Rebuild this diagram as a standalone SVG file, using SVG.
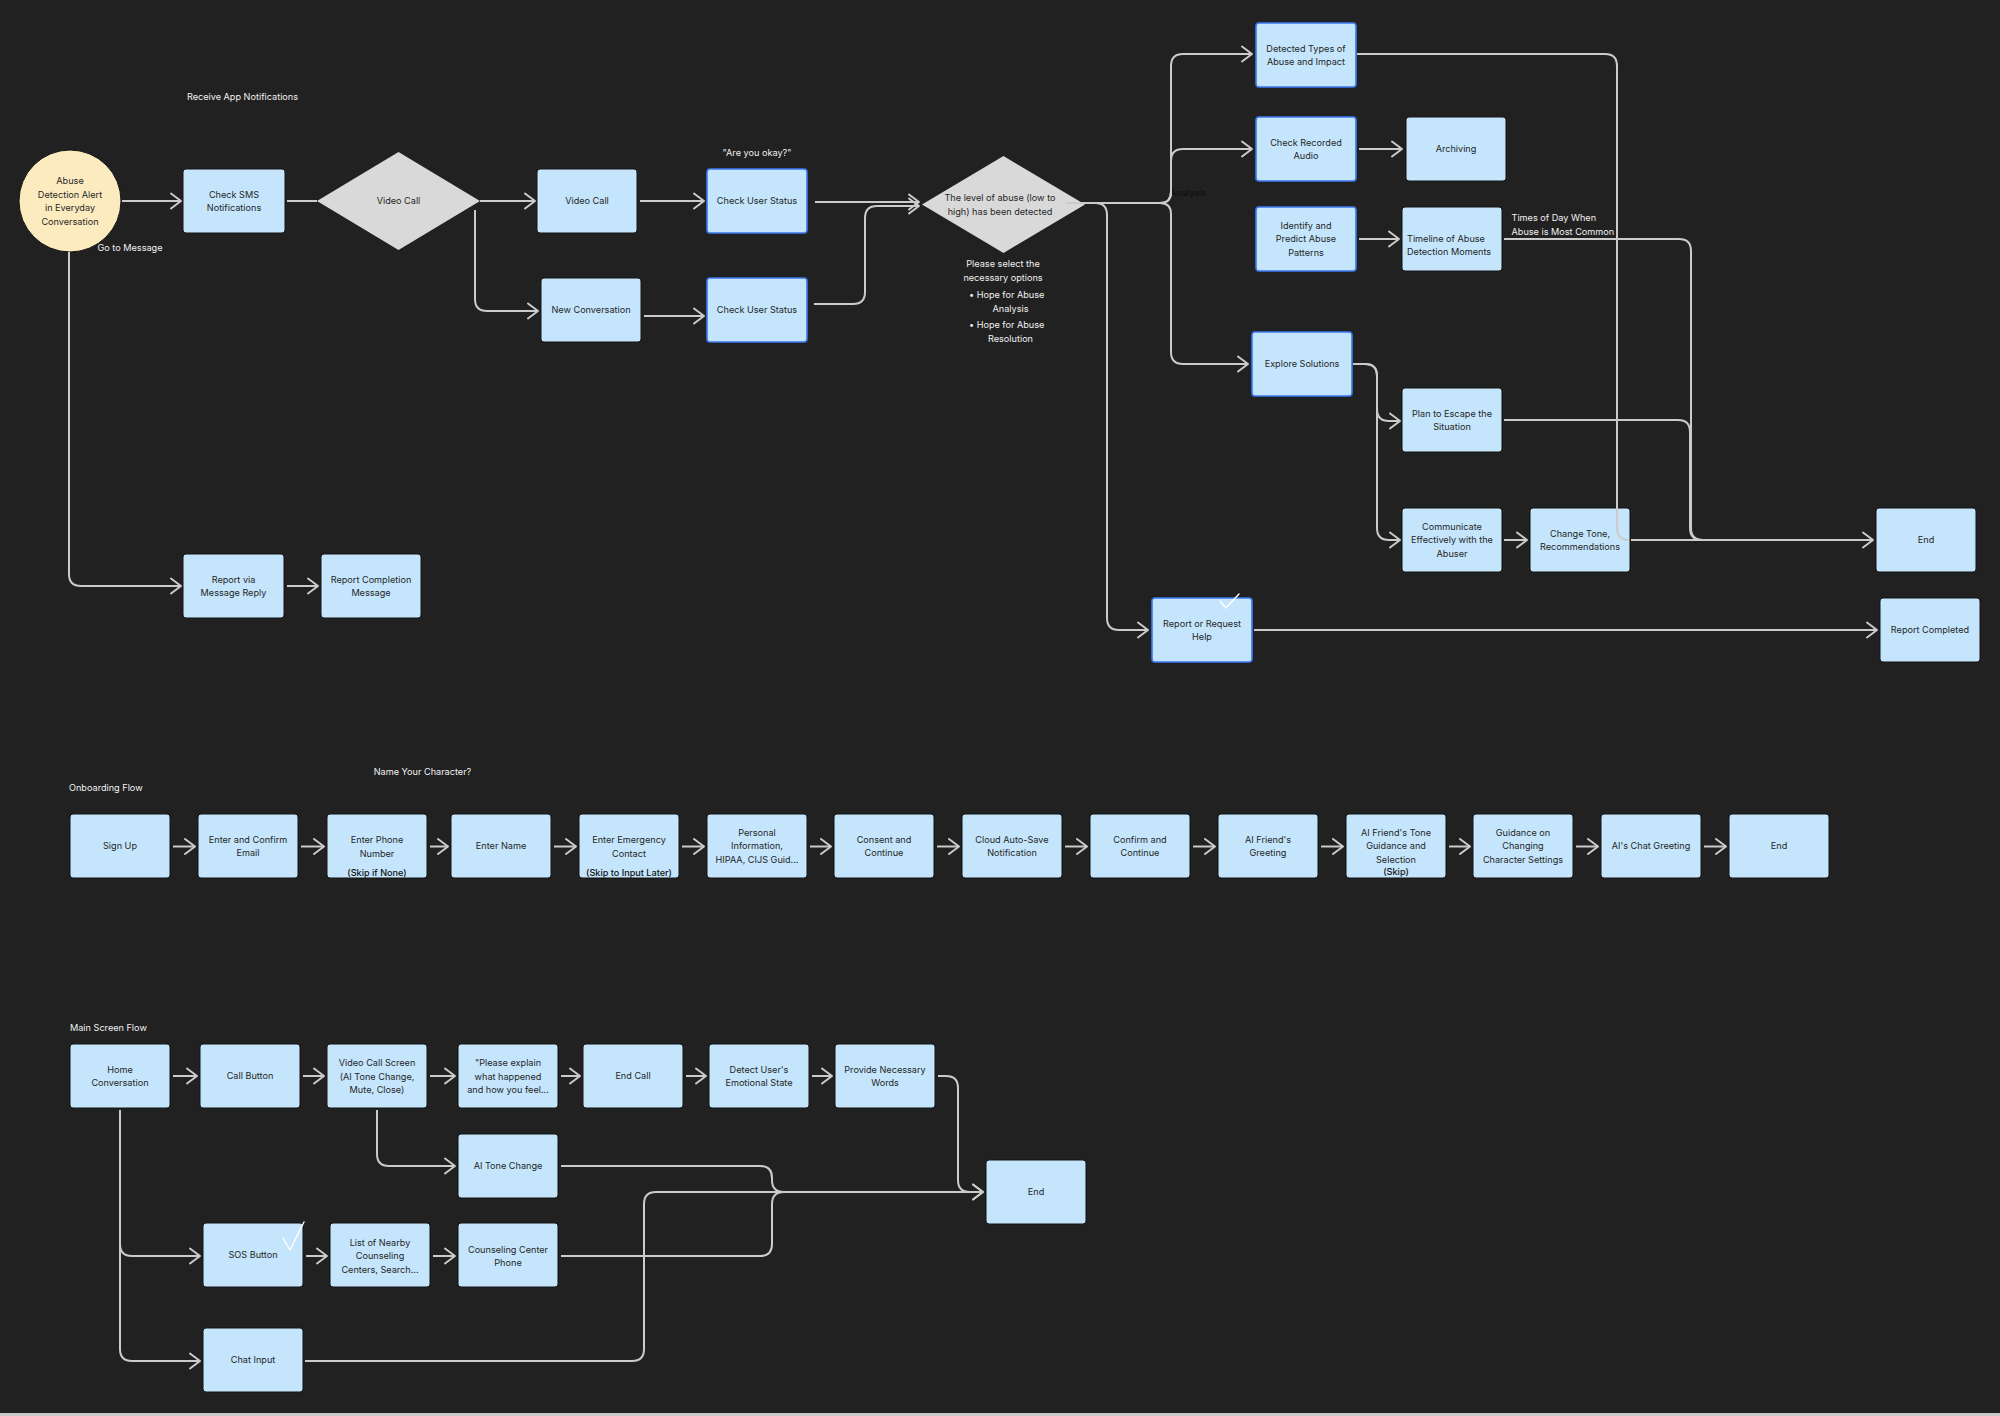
<svg xmlns="http://www.w3.org/2000/svg" width="2000" height="1416" viewBox="0 0 2000 1416">
<style>
.bg{fill:#212121}
.box{fill:#c4e5fc;stroke:#151515;stroke-width:1}
.sel{fill:#c4e5fc;stroke:#3b78f0;stroke-width:1.6}
.dia{fill:#d9d9d9;stroke:none}
.t{font-family:Inter,"Liberation Sans",sans-serif;font-size:9.15px;fill:#262626;text-anchor:middle}
.tb{font-family:Inter,"Liberation Sans",sans-serif;font-size:9.15px;fill:#111;font-weight:500;text-anchor:middle}
.w{font-family:Inter,"Liberation Sans",sans-serif;font-size:9.15px;fill:#f2f2f2}
.wm{font-family:Inter,"Liberation Sans",sans-serif;font-size:9.15px;fill:#f2f2f2;text-anchor:middle}
.dk{font-family:Inter,"Liberation Sans",sans-serif;font-size:9.15px;fill:#0d0d0d}
.c{fill:none;stroke:#cbcbcb;stroke-width:2;stroke-linejoin:round}
.ca{fill:none;stroke:#cbcbcb;stroke-width:2;stroke-linejoin:round;marker-end:url(#ah)}
.chk{fill:none;stroke:#ffffff;stroke-width:1.4;stroke-linecap:round;stroke-linejoin:round}
</style>
<defs>
<marker id="ah" markerUnits="userSpaceOnUse" markerWidth="14" markerHeight="18" viewBox="0 0 14 18" refX="12" refY="9" orient="auto">
<path d="M2,1.5 L12,9 L2,16.5" fill="none" stroke="#cbcbcb" stroke-width="2" stroke-linecap="round" stroke-linejoin="round"/>
</marker>
</defs>
<rect class="bg" x="0" y="0" width="2000" height="1416"/>
<rect x="0" y="1413" width="2000" height="3" fill="#c8c8c8"/>

<!-- free labels -->
<g id="labels">
<text class="wm" x="242.5" y="100.3">Receive App Notifications</text>
<text class="w" x="97.5" y="251.3">Go to Message</text>
<text class="wm" x="757" y="156.3">"Are you okay?"</text>
<text class="wm" x="1003" y="267.3">Please select the</text>
<text class="wm" x="1003" y="281.3">necessary options</text>
<text class="w" x="969" y="298">•</text>
<text class="wm" x="1010.5" y="298">Hope for Abuse</text>
<text class="wm" x="1010.5" y="312">Analysis</text>
<text class="w" x="969" y="327.5">•</text>
<text class="wm" x="1010.5" y="327.5">Hope for Abuse</text>
<text class="wm" x="1010.5" y="341.5">Resolution</text>
<text class="dk" x="1170" y="196.3">Analysis</text>
<text class="w" x="1511.5" y="221">Times of Day When</text>
<text class="w" x="1511.5" y="234.6">Abuse is Most Common</text>
<text class="wm" x="422.5" y="775">Name Your Character?</text>
<text class="w" x="69" y="791">Onboarding Flow</text>
<text class="w" x="70" y="1030.6">Main Screen Flow</text>
</g>

<!-- top section nodes -->
<g id="n-alert"><circle cx="70" cy="201" r="51" fill="#fdebc0" stroke="#151515" stroke-width="1"/>
<text class="t"><tspan x="70" y="184.3">Abuse</tspan><tspan x="70" y="197.8">Detection Alert</tspan><tspan x="70" y="211.3">in Everyday</tspan><tspan x="70" y="224.8">Conversation</tspan></text></g>
<g id="n-checksms"><rect class="box" x="183" y="169" width="102" height="64" rx="3"/>
<text class="t"><tspan x="234" y="197.5">Check SMS</tspan><tspan x="234" y="211.1">Notifications</tspan></text></g>
<g id="n-dia-videocall"><polygon class="dia" points="317,201 398.5,152 480,201 398.5,250"/>
<text class="t" x="398.5" y="204.3">Video Call</text></g>
<g id="n-videocall"><rect class="box" x="537" y="169" width="100" height="64" rx="3"/>
<text class="t" x="587" y="204.3">Video Call</text></g>
<g id="n-cus1"><rect class="sel" x="707" y="169" width="100" height="64" rx="3"/>
<text class="t" x="757" y="204.3">Check User Status</text></g>
<g id="n-newconv"><rect class="box" x="541" y="278" width="100" height="64" rx="3"/>
<text class="t" x="591" y="313.3">New Conversation</text></g>
<g id="n-cus2"><rect class="sel" x="707" y="278" width="100" height="64" rx="3"/>
<text class="t" x="757" y="313.3">Check User Status</text></g>
<g id="n-dia-level"><polygon class="dia" points="922,204.5 1003.5,156 1085,204.5 1003.5,253"/>
<text class="t"><tspan x="1000" y="201">The level of abuse (low to</tspan><tspan x="1000" y="215">high) has been detected</tspan></text></g>
<g id="n-types"><rect class="sel" x="1256" y="23" width="100" height="64" rx="3"/>
<text class="t"><tspan x="1306" y="51.6">Detected Types of</tspan><tspan x="1306" y="65.3">Abuse and Impact</tspan></text></g>
<g id="n-audio"><rect class="sel" x="1256" y="117" width="100" height="64" rx="3"/>
<text class="t"><tspan x="1306" y="145.6">Check Recorded</tspan><tspan x="1306" y="159.3">Audio</tspan></text></g>
<g id="n-archiving"><rect class="box" x="1406" y="117" width="100" height="64" rx="3"/>
<text class="t" x="1456" y="152.3">Archiving</text></g>
<g id="n-identify"><rect class="sel" x="1256" y="207" width="100" height="64" rx="3"/>
<text class="t"><tspan x="1306" y="228.6">Identify and</tspan><tspan x="1306" y="242.3">Predict Abuse</tspan><tspan x="1306" y="256">Patterns</tspan></text></g>
<g id="n-timeline"><rect class="box" x="1402" y="207" width="100" height="64" rx="3"/>
<text class="t" style="text-anchor:start"><tspan x="1407" y="241.5">Timeline of Abuse</tspan><tspan x="1407" y="255.3">Detection Moments</tspan></text></g>
<g id="n-explore"><rect class="sel" x="1252" y="332" width="100" height="64" rx="3"/>
<text class="t" x="1302" y="367.3">Explore Solutions</text></g>
<g id="n-plan"><rect class="box" x="1402" y="388" width="100" height="64" rx="3"/>
<text class="t"><tspan x="1452" y="416.6">Plan to Escape the</tspan><tspan x="1452" y="430.3">Situation</tspan></text></g>
<g id="n-communicate"><rect class="box" x="1402" y="508" width="100" height="64" rx="3"/>
<text class="t"><tspan x="1452" y="529.6">Communicate</tspan><tspan x="1452" y="543.3">Effectively with the</tspan><tspan x="1452" y="557">Abuser</tspan></text></g>
<g id="n-changetone"><rect class="box" x="1530" y="508" width="100" height="64" rx="3"/>
<text class="t"><tspan x="1580" y="536.6">Change Tone,</tspan><tspan x="1580" y="550.3">Recommendations</tspan></text></g>
<g id="n-end1"><rect class="box" x="1876" y="508" width="100" height="64" rx="3"/>
<text class="t" x="1926" y="543.3">End</text></g>
<g id="n-report"><rect class="sel" x="1152" y="598" width="100" height="64" rx="3"/>
<text class="t"><tspan x="1202" y="626.6">Report or Request</tspan><tspan x="1202" y="640.3">Help</tspan></text>
<polyline class="chk" points="1220,601 1226,608 1239,594"/></g>
<g id="n-reportdone"><rect class="box" x="1880" y="598" width="100" height="64" rx="3"/>
<text class="t" x="1930" y="633.3">Report Completed</text></g>
<g id="n-msgreply"><rect class="box" x="183" y="554" width="101" height="64" rx="3"/>
<text class="t"><tspan x="233.5" y="582.6">Report via</tspan><tspan x="233.5" y="596.3">Message Reply</tspan></text></g>
<g id="n-msgdone"><rect class="box" x="321" y="554" width="100" height="64" rx="3"/>
<text class="t"><tspan x="371" y="582.6">Report Completion</tspan><tspan x="371" y="596.3">Message</tspan></text></g>

<!-- onboarding nodes -->
<g id="o-signup"><rect class="box" x="70" y="814" width="100" height="64" rx="3"/><text class="t" x="120" y="849.3">Sign Up</text></g>
<g id="o-email"><rect class="box" x="198" y="814" width="100" height="64" rx="3"/><text class="t"><tspan x="248" y="842.6">Enter and Confirm</tspan><tspan x="248" y="856.3">Email</tspan></text></g>
<g id="o-phone"><rect class="box" x="327" y="814" width="100" height="64" rx="3"/><text class="t"><tspan x="377" y="843.3">Enter Phone</tspan><tspan x="377" y="856.6">Number</tspan></text><text class="tb" x="377" y="875.6">(Skip if None)</text></g>
<g id="o-name"><rect class="box" x="451" y="814" width="100" height="64" rx="3"/><text class="t" x="501" y="849.3">Enter Name</text></g>
<g id="o-emergency"><rect class="box" x="579" y="814" width="100" height="64" rx="3"/><text class="t"><tspan x="629" y="843.3">Enter Emergency</tspan><tspan x="629" y="856.6">Contact</tspan></text><text class="tb" x="629" y="875.6">(Skip to Input Later)</text></g>
<g id="o-personal"><rect class="box" x="707" y="814" width="100" height="64" rx="3"/><text class="t"><tspan x="757" y="836">Personal</tspan><tspan x="757" y="849.3">Information,</tspan><tspan x="757" y="862.6">HIPAA, CIJS Guid...</tspan></text></g>
<g id="o-consent"><rect class="box" x="834" y="814" width="100" height="64" rx="3"/><text class="t"><tspan x="884" y="842.6">Consent and</tspan><tspan x="884" y="856.3">Continue</tspan></text></g>
<g id="o-cloud"><rect class="box" x="962" y="814" width="100" height="64" rx="3"/><text class="t"><tspan x="1012" y="842.6">Cloud Auto-Save</tspan><tspan x="1012" y="856.3">Notification</tspan></text></g>
<g id="o-confirm"><rect class="box" x="1090" y="814" width="100" height="64" rx="3"/><text class="t"><tspan x="1140" y="842.6">Confirm and</tspan><tspan x="1140" y="856.3">Continue</tspan></text></g>
<g id="o-greeting"><rect class="box" x="1218" y="814" width="100" height="64" rx="3"/><text class="t"><tspan x="1268" y="842.6">AI Friend's</tspan><tspan x="1268" y="856.3">Greeting</tspan></text></g>
<g id="o-tone"><rect class="box" x="1346" y="814" width="100" height="64" rx="3"/><text class="t"><tspan x="1396" y="836">AI Friend's Tone</tspan><tspan x="1396" y="849.3">Guidance and</tspan><tspan x="1396" y="862.6">Selection</tspan></text><text class="tb" x="1396" y="875.3">(Skip)</text></g>
<g id="o-guidance"><rect class="box" x="1473" y="814" width="100" height="64" rx="3"/><text class="t"><tspan x="1523" y="836">Guidance on</tspan><tspan x="1523" y="849.3">Changing</tspan><tspan x="1523" y="862.6">Character Settings</tspan></text></g>
<g id="o-chatgreet"><rect class="box" x="1601" y="814" width="100" height="64" rx="3"/><text class="t" x="1651" y="849.3">AI's Chat Greeting</text></g>
<g id="o-end"><rect class="box" x="1729" y="814" width="100" height="64" rx="3"/><text class="t" x="1779" y="849.3">End</text></g>

<!-- main screen nodes -->
<g id="m-home"><rect class="box" x="70" y="1044" width="100" height="64" rx="3"/><text class="t"><tspan x="120" y="1072.6">Home</tspan><tspan x="120" y="1086.3">Conversation</tspan></text></g>
<g id="m-call"><rect class="box" x="200" y="1044" width="100" height="64" rx="3"/><text class="t" x="250" y="1079.3">Call Button</text></g>
<g id="m-vcs"><rect class="box" x="327" y="1044" width="100" height="64" rx="3"/><text class="t"><tspan x="377" y="1065.8">Video Call Screen</tspan><tspan x="377" y="1079.5">(AI Tone Change,</tspan><tspan x="377" y="1093.2">Mute, Close)</tspan></text></g>
<g id="m-explain"><rect class="box" x="458" y="1044" width="100" height="64" rx="3"/><text class="t"><tspan x="508" y="1065.8">"Please explain</tspan><tspan x="508" y="1079.5">what happened</tspan><tspan x="508" y="1093.2">and how you feel...</tspan></text></g>
<g id="m-endcall"><rect class="box" x="583" y="1044" width="100" height="64" rx="3"/><text class="t" x="633" y="1079.3">End Call</text></g>
<g id="m-detect"><rect class="box" x="709" y="1044" width="100" height="64" rx="3"/><text class="t"><tspan x="759" y="1072.6">Detect User's</tspan><tspan x="759" y="1086.3">Emotional State</tspan></text></g>
<g id="m-words"><rect class="box" x="835" y="1044" width="100" height="64" rx="3"/><text class="t"><tspan x="885" y="1072.6">Provide Necessary</tspan><tspan x="885" y="1086.3">Words</tspan></text></g>
<g id="m-tone"><rect class="box" x="458" y="1134" width="100" height="64" rx="3"/><text class="t" x="508" y="1169.3">AI Tone Change</text></g>
<g id="m-end"><rect class="box" x="986" y="1160" width="100" height="64" rx="3"/><text class="t" x="1036" y="1195.3">End</text></g>
<g id="m-sos"><rect class="box" x="203" y="1223" width="100" height="64" rx="3"/><text class="t" x="253" y="1258.3">SOS Button</text>
<polyline class="chk" points="283,1238 290,1250 304,1222"/></g>
<g id="m-list"><rect class="box" x="330" y="1223" width="100" height="64" rx="3"/><text class="t"><tspan x="380" y="1245.6">List of Nearby</tspan><tspan x="380" y="1259.3">Counseling</tspan><tspan x="380" y="1273">Centers, Search...</tspan></text></g>
<g id="m-counsel"><rect class="box" x="458" y="1223" width="100" height="64" rx="3"/><text class="t"><tspan x="508" y="1252.6">Counseling Center</tspan><tspan x="508" y="1266.3">Phone</tspan></text></g>
<g id="m-chat"><rect class="box" x="203" y="1328" width="100" height="64" rx="3"/><text class="t" x="253" y="1363.3">Chat Input</text></g>

<!-- connectors -->
<g id="connectors">
<path class="ca" d="M122,201 H181"/>
<path class="c" d="M287,201 H317"/>
<path class="ca" d="M480,201 H535"/>
<path class="ca" d="M475,210 V299 Q475,311 487,311 H538"/>
<path class="ca" d="M640,201 H704"/>
<path class="ca" d="M644,316 H704"/>
<path class="ca" d="M815,202 H919"/>
<path class="ca" d="M814,304 H853 Q865,304 865,292 V218 Q865,206 877,206 H919"/>
<path class="ca" d="M69,252 V574 Q69,586 81,586 H181"/>
<path class="ca" d="M287,586 H318"/>
<path class="ca" d="M1066,203 H1160 Q1171,203 1171,192 V66 Q1171,54 1183,54 H1252"/>
<path class="ca" d="M1160,203 Q1171,203 1171,192 V161 Q1171,149 1183,149 H1252"/>
<path class="ca" d="M1160,203 Q1171,203 1171,214 V352 Q1171,364 1183,364 H1248"/>
<path class="ca" d="M1066,203 H1095 Q1107,203 1107,215 V618 Q1107,630 1119,630 H1148"/>
<path class="ca" d="M1359,149 H1402"/>
<path class="ca" d="M1359,239 H1399"/>
<path class="c" d="M1357,54 H1605 Q1617,54 1617,66 V528 Q1617,540 1629,540"/>
<path class="c" d="M1504,239 H1679 Q1691,239 1691,251 V528 Q1691,540 1703,540"/>
<path class="c" d="M1504,420 H1678 Q1690,420 1690,432 V528 Q1690,540 1702,540"/>
<path class="ca" d="M1631,540 H1873"/>
<path class="ca" d="M1353,364 H1365 Q1377,364 1377,376 V409 Q1377,421 1389,421 H1400"/>
<path class="ca" d="M1353,364 H1365 Q1377,364 1377,376 V528 Q1377,540 1389,540 H1400"/>
<path class="ca" d="M1504,540 H1527"/>
<path class="ca" d="M1254,630 H1877"/>

<path class="ca" d="M173,846.5 H195"/>
<path class="ca" d="M301,846.5 H324"/>
<path class="ca" d="M430,846.5 H448"/>
<path class="ca" d="M554,846.5 H576"/>
<path class="ca" d="M682,846.5 H704"/>
<path class="ca" d="M810,846.5 H831"/>
<path class="ca" d="M937,846.5 H959"/>
<path class="ca" d="M1065,846.5 H1087"/>
<path class="ca" d="M1193,846.5 H1215"/>
<path class="ca" d="M1321,846.5 H1343"/>
<path class="ca" d="M1449,846.5 H1470"/>
<path class="ca" d="M1576,846.5 H1598"/>
<path class="ca" d="M1704,846.5 H1726"/>

<path class="ca" d="M173,1076 H197"/>
<path class="ca" d="M303,1076 H324"/>
<path class="ca" d="M430,1076 H455"/>
<path class="ca" d="M561,1076 H580"/>
<path class="ca" d="M686,1076 H706"/>
<path class="ca" d="M812,1076 H832"/>
<path class="ca" d="M938,1076 H946 Q958,1076 958,1088 V1180 Q958,1192 970,1192 H983"/>
<path class="ca" d="M377,1110 V1154 Q377,1166 389,1166 H455"/>
<path class="c" d="M561,1166 H760 Q772,1166 772,1178 V1180 Q772,1192 784,1192"/>
<path class="c" d="M561,1256 H760 Q772,1256 772,1244 V1204 Q772,1192 784,1192"/>
<path class="ca" d="M305,1361 H632 Q644,1361 644,1349 V1204 Q644,1192 656,1192 H983"/>
<path class="ca" d="M120,1110 V1244 Q120,1256 132,1256 H200"/>
<path class="ca" d="M120,1244 V1349 Q120,1361 132,1361 H200"/>
<path class="ca" d="M306,1256 H327"/>
<path class="ca" d="M433,1256 H455"/>
</g>
</svg>
